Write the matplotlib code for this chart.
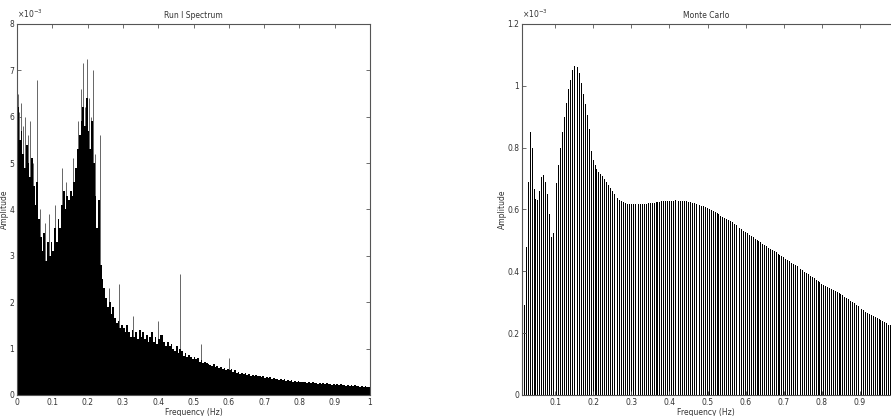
import numpy as np
import matplotlib
matplotlib.use("Agg")
import matplotlib.pyplot as plt

plt.rcParams['font.family'] = ['Liberation Sans Narrow', 'DejaVu Sans']

# Run I spectrum, amplitude in units of 1e-3, bins of 0.005 Hz from 0
run1_step = 0.005
run1_amp = [
    6.2, 5.5, 5.7, 5.2, 4.9, 5.4, 5.0, 4.7, 5.1, 4.5,
    4.1, 4.6, 3.8, 3.4, 3.1, 3.5, 2.9, 3.3, 3.0, 3.3,
    3.1, 3.6, 3.3, 3.8, 3.6, 4.1, 4.4, 4.0, 4.3, 4.2,
    4.4, 4.3, 4.6, 4.9, 5.3, 5.6, 5.9, 6.2, 5.8, 6.4,
    5.7, 5.3, 5.9, 5.0, 4.3, 3.6, 4.2, 2.8, 2.5, 2.3,
    2.1, 1.9, 2.0, 1.75, 1.9, 1.65, 1.55, 1.6, 1.45, 1.5,
    1.45, 1.35, 1.5, 1.35, 1.25, 1.4, 1.25, 1.35, 1.2, 1.4,
    1.25, 1.35, 1.2, 1.3, 1.15, 1.25, 1.35, 1.15, 1.25, 1.1,
    1.2, 1.3, 1.3, 1.15, 1.05, 1.15, 1.05, 1.1, 1.0, 0.95,
    1.05, 0.9, 1.0, 0.95, 0.85, 0.9, 0.82, 0.86, 0.82, 0.78,
    0.82, 0.77, 0.8, 0.72, 0.76, 0.68, 0.72, 0.69, 0.67, 0.65,
    0.62, 0.67, 0.6, 0.63, 0.58, 0.6, 0.56, 0.58, 0.54, 0.56,
    0.53, 0.55, 0.5, 0.53, 0.48, 0.5, 0.46, 0.48, 0.45, 0.47,
    0.44, 0.46, 0.42, 0.44, 0.41, 0.43, 0.4, 0.41, 0.38, 0.4,
    0.37, 0.39, 0.36, 0.38, 0.35, 0.36, 0.34, 0.35, 0.33, 0.34,
    0.32, 0.34, 0.31, 0.33, 0.3, 0.32, 0.29, 0.31, 0.28, 0.3,
    0.28, 0.29, 0.27, 0.28, 0.26, 0.28, 0.25, 0.27, 0.25, 0.26,
    0.24, 0.26, 0.24, 0.25, 0.23, 0.25, 0.23, 0.24, 0.22, 0.24,
    0.22, 0.23, 0.21, 0.23, 0.21, 0.22, 0.2, 0.22, 0.2, 0.21,
    0.2, 0.21, 0.19, 0.2, 0.18, 0.2, 0.18, 0.19, 0.17, 0.18,
]
# narrow spikes sticking out of the Run I spectrum
spike_freq = [0.002, 0.006, 0.012, 0.018, 0.024, 0.031, 0.038, 0.045, 0.057, 0.066,
              0.078, 0.09, 0.108, 0.127, 0.14, 0.158, 0.172, 0.18, 0.187, 0.192,
              0.197, 0.203, 0.21, 0.215, 0.222, 0.235, 0.26, 0.29, 0.33, 0.4,
              0.462, 0.52, 0.6]
spike_amp = [6.5, 6.1, 6.3, 5.8, 6.0, 5.6, 5.9, 5.0, 6.8, 4.0,
             3.7, 3.9, 4.1, 4.9, 4.6, 5.1, 5.9, 6.6, 7.15, 6.2,
             7.24, 6.4, 6.0, 7.0, 5.2, 5.6, 2.3, 2.4, 1.7, 1.6,
             2.6, 1.1, 0.8]

# Monte Carlo spectrum, amplitude in units of 1e-3, bins of 0.005 Hz from 0.015
mc_start = 0.015
mc_step = 0.005
mc_amp = [
    0.12, 0.29, 0.48, 0.69, 0.85, 0.80, 0.665, 0.635, 0.63, 0.66,
    0.705, 0.71, 0.69, 0.65, 0.585, 0.51, 0.525, 0.605, 0.685, 0.745,
    0.80, 0.85, 0.90, 0.945, 0.99, 1.02, 1.05, 1.065, 1.07, 1.06,
    1.04, 1.01, 0.975, 0.94, 0.905, 0.86, 0.79, 0.76, 0.745, 0.73,
    0.722, 0.715, 0.708, 0.70, 0.69, 0.68, 0.67, 0.66, 0.65, 0.645,
    0.638, 0.632, 0.627, 0.623, 0.62, 0.619, 0.618, 0.618, 0.617, 0.617,
    0.617, 0.617, 0.617, 0.618, 0.618, 0.619, 0.62, 0.62, 0.621, 0.622,
    0.623, 0.624, 0.625, 0.626, 0.627, 0.628, 0.628, 0.629, 0.629, 0.629,
    0.63, 0.63, 0.629, 0.629, 0.628, 0.627, 0.626, 0.625, 0.623, 0.621,
    0.62, 0.618, 0.616, 0.614, 0.612, 0.61, 0.607, 0.605, 0.602, 0.598,
    0.595, 0.592, 0.588, 0.584, 0.58, 0.577, 0.573, 0.57, 0.566, 0.562,
    0.558, 0.553, 0.549, 0.544, 0.54, 0.536, 0.531, 0.527, 0.523, 0.519,
    0.515, 0.51, 0.506, 0.502, 0.498, 0.494, 0.489, 0.485, 0.481, 0.477,
    0.473, 0.469, 0.465, 0.461, 0.457, 0.453, 0.449, 0.445, 0.441, 0.437,
    0.433, 0.428, 0.424, 0.42, 0.416, 0.411, 0.407, 0.403, 0.398, 0.394,
    0.39, 0.385, 0.381, 0.377, 0.372, 0.368, 0.364, 0.36, 0.357, 0.353,
    0.35, 0.347, 0.343, 0.34, 0.337, 0.334, 0.33, 0.327, 0.323, 0.318,
    0.314, 0.31, 0.305, 0.301, 0.296, 0.292, 0.287, 0.282, 0.278, 0.274,
    0.27, 0.266, 0.263, 0.259, 0.256, 0.252, 0.249, 0.245, 0.242, 0.239,
    0.235, 0.232, 0.228, 0.225, 0.222,
]

run1_edges = np.arange(len(run1_amp) + 1) * run1_step
mc_freq = mc_start + np.arange(len(mc_amp)) * mc_step

W, H = 891, 416
fig = plt.figure(figsize=(W / 100, H / 100), dpi=100)

def px_axes(left, right, top, bottom):
    return fig.add_axes([left / W, 1 - bottom / H, (right - left) / W, (bottom - top) / H])

def matlab_style(ax):
    for s in ax.spines.values():
        s.set_color('#555555')
        s.set_linewidth(0.8)
    ax.tick_params(direction='in', length=3, width=0.6, colors='#555555',
                   labelcolor='#333333', labelsize=5.5, top=True, right=True, pad=2)

lab = dict(fontsize=5.5, color='#333333')

# ---- left: Run I spectrum
ax1 = px_axes(17, 370, 24, 395)
# spikes behind the solid body so only the tips show
ax1.vlines(spike_freq, 0, spike_amp, color='0.3', linewidth=0.6, zorder=1)
ax1.stairs(run1_amp, run1_edges, fill=True, color='black', linewidth=0, zorder=2)
ax1.set_xlim(0, 1)
ax1.set_ylim(0, 8)
ax1.set_xticks(np.arange(0, 1.01, 0.1))
ax1.set_xticklabels(['0', '0.1', '0.2', '0.3', '0.4', '0.5', '0.6', '0.7', '0.8', '0.9', '1'])
ax1.set_yticks(range(9))
ax1.set_yticklabels([str(i) for i in range(9)])
matlab_style(ax1)
ax1.set_title('Run I Spectrum', pad=4, **lab)
ax1.set_xlabel('Frequency (Hz)', labelpad=1, **lab)
ax1.set_ylabel('Amplitude', labelpad=0, **lab)
ax1.text(0.0, 1.01, r'$\times10^{-3}$', transform=ax1.transAxes, ha='left', va='bottom', **lab)

# ---- right: Monte Carlo (axes runs past the right edge of the picture)
ax2 = px_axes(522, 896, 24, 395)
ax2.bar(mc_freq, mc_amp, width=mc_step * 0.5, color='black', linewidth=0)
ax2.set_xlim(0.0134, 0.1 + (896 - 555) / 381.25)
ax2.set_ylim(0, 1.2)
ax2.set_xticks(np.arange(0.1, 0.95, 0.1))
ax2.set_xticklabels(['0.1', '0.2', '0.3', '0.4', '0.5', '0.6', '0.7', '0.8', '0.9'])
ax2.set_yticks([0, 0.2, 0.4, 0.6, 0.8, 1.0, 1.2])
ax2.set_yticklabels(['0', '0.2', '0.4', '0.6', '0.8', '1', '1.2'])
matlab_style(ax2)
ax2.set_title('Monte Carlo', pad=4, **lab)
ax2.title.set_x((706 - 522) / (896 - 522))
ax2.set_xlabel('Frequency (Hz)', labelpad=1, **lab)
ax2.xaxis.set_label_coords((706 - 522) / (896 - 522), -0.035)
ax2.set_ylabel('Amplitude', labelpad=0, **lab)
ax2.text(0.0, 1.01, r'$\times10^{-3}$', transform=ax2.transAxes, ha='left', va='bottom', **lab)

fig.savefig('out.png', dpi=100)
